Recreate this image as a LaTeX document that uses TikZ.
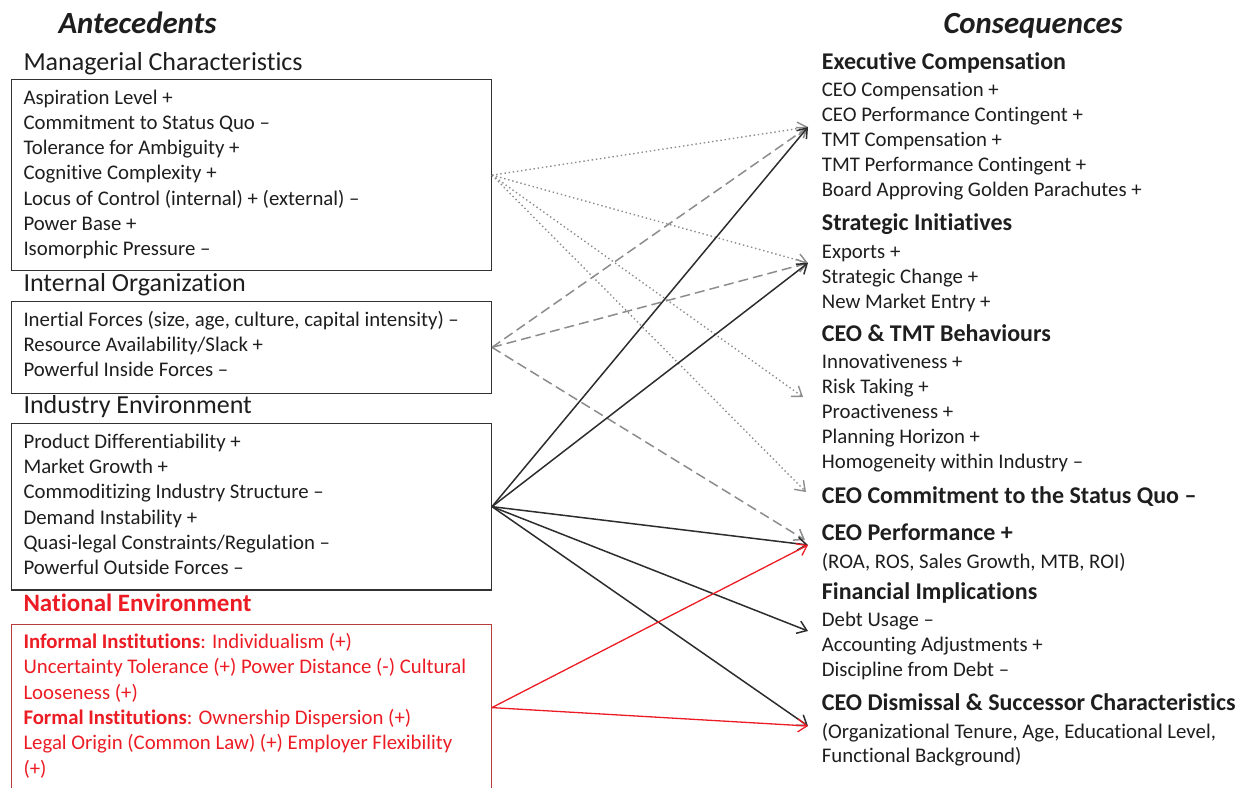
\documentclass[tikz,border=0pt]{standalone}
\usepackage{fontspec}
\setmainfont[Ligatures=NoCommon]{Carlito}
\usetikzlibrary{arrows.meta}
\definecolor{txt}{RGB}{30,30,30}
\definecolor{boxc}{RGB}{50,50,50}
\definecolor{nred}{RGB}{236,28,36}
\definecolor{nbox}{RGB}{185,60,60}
\definecolor{dotc}{RGB}{140,140,140}
\definecolor{dashc}{RGB}{140,140,140}
\definecolor{solc}{RGB}{45,45,45}
\begin{document}
\begin{tikzpicture}[x=1pt,y=-1pt,
 item/.style={anchor=base west, inner sep=0pt, font=\fontsize{20.8}{24}\selectfont, text=txt},
 redtext/.style={item, text=nred},
 lhead/.style={anchor=base west, inner sep=0pt, font=\fontsize{26}{30}\selectfont, text=txt},
 rhead/.style={anchor=base west, inner sep=0pt, font=\fontsize{24}{28}\selectfont\bfseries, text=txt},
 coltitle/.style={anchor=base west, inner sep=0pt, font=\fontsize{30.8}{36}\selectfont\bfseries\itshape, text=txt},
 abox/.style={draw=boxc, line width=1.3pt, anchor=north west, inner sep=0pt, minimum width=480pt},
 tipped/.style={-{Straight Barb[length=9pt,width=13pt]}},
 dotline/.style={tipped, draw=dotc, line width=1.4pt, dash pattern=on 1.4pt off 2.8pt},
 dashline/.style={tipped, draw=dashc, line width=1.5pt, dash pattern=on 10pt off 5pt},
 solline/.style={tipped, draw=solc, line width=1.5pt},
 redline/.style={tipped, draw=nred, line width=1.3pt}
]
\useasboundingbox (0,0) rectangle (1252,787);

% titles
\node[coltitle] (tAnte) at (58.3,33.3) {Antecedents};
\node[coltitle] (tCons) at (943.3,33.3) {Consequences};

% left boxes
\node[lhead] (hMC) at (23.3,70) {Managerial Characteristics};
\node[abox, minimum height=191pt] (mc) at (10.7,79) {};
\foreach \t [count=\i] in {Aspiration Level +, Commitment to Status Quo –, Tolerance for Ambiguity +, Cognitive Complexity +, Locus of Control (internal) + (external) –, Power Base +, Isomorphic Pressure –}
  \node[item] (mc\i) at (23.3,{104+25.25*(\i-1)}) {\t};

\node[lhead] (hIO) at (23.3,291.7) {Internal Organization};
\node[abox, minimum height=92pt] (io) at (10.7,300.7) {};
\foreach \t [count=\i] in {{Inertial Forces (size, age, culture, capital intensity) –}, Resource Availability/Slack +, Powerful Inside Forces –}
  \node[item] (io\i) at (23.3,{326.7+25*(\i-1)}) {\t};

\node[lhead] (hIE) at (23.3,413.3) {Industry Environment};
\node[abox, minimum height=166.6pt] (ie) at (10.7,422.7) {};
\foreach \t [count=\i] in {Product Differentiability +, Market Growth +, Commoditizing Industry Structure –, Demand Instability +, Quasi-legal Constraints/Regulation –, Powerful Outside Forces –}
  \node[item] (ie\i) at (23.3,{448.3+25.3*(\i-1)}) {\t};

\node[lhead, font=\fontsize{25}{30}\selectfont\bfseries, text=nred] (hNE) at (23.3,611.7) {National Environment};
\node[abox, draw=nbox, line width=1.2pt, minimum height=166pt] (ne) at (10.7,624) {};
\foreach \t [count=\i] in {\textbf{Informal Institutions}: Individualism (+), Uncertainty Tolerance (+) Power Distance (-) Cultural, Looseness (+), \textbf{Formal Institutions}: Ownership Dispersion (+), Legal Origin (Common Law) (+) Employer Flexibility, (+)}
  \node[redtext] (ne\i) at (23.3,{648.3+25.35*(\i-1)}) {\t};

% right side
\node[rhead] (hEC) at (821.7,69) {Executive Compensation};
\foreach \t [count=\i] in {CEO Compensation +, CEO Performance Contingent +, TMT Compensation +, TMT Performance Contingent +, Board Approving Golden Parachutes +}
  \node[item] (ec\i) at (821.7,{96.7+25*(\i-1)}) {\t};

\node[rhead] (hSI) at (821.7,230) {Strategic Initiatives};
\foreach \t [count=\i] in {Exports +, Strategic Change +, New Market Entry +}
  \node[item] (si\i) at (821.7,{258.3+25*(\i-1)}) {\t};

\node[rhead] (hTB) at (821.7,341.7) {CEO \& TMT Behaviours};
\foreach \t [count=\i] in {Innovativeness +, Risk Taking +, Proactiveness +, Planning Horizon +, Homogeneity within Industry –}
  \node[item] (tb\i) at (821.7,{368.3+25*(\i-1)}) {\t};

\node[rhead] (hSQ) at (821.7,503.3) {CEO Commitment to the Status Quo –};
\node[rhead] (hCP) at (821.7,540) {CEO Performance +};
\node[item] (cp1) at (821.7,568.3) {(ROA, ROS, Sales Growth, MTB, ROI)};

\node[rhead] (hFI) at (821.7,599.3) {Financial Implications};
\foreach \t [count=\i] in {Debt Usage –, Accounting Adjustments +, Discipline from Debt –}
  \node[item] (fi\i) at (821.7,{626.7+25*(\i-1)}) {\t};

\node[rhead] (hDS) at (821.7,710) {CEO Dismissal \& Successor Characteristics};
\node[item] (ds1) at (821.7,738.3) {(Organizational Tenure, Age, Educational Level,};
\node[item] (ds2) at (821.7,762.3) {Functional Background)};

% arrow targets
\coordinate (tEC) at (808,127);
\coordinate (tSI) at (808,263);
\coordinate (tRT) at (803,397);
\coordinate (tSQ) at (806,492);
\coordinate (tPFd) at (805,540);
\coordinate (tPF) at (808,545);
\coordinate (tDU) at (808,631);
\coordinate (tDS) at (808,726);

% dotted: managerial characteristics
\draw[dotline] (mc.east) -- (tEC);
\draw[dotline] (mc.east) -- (tSI);
\draw[dotline] (mc.east) -- (tRT);
\draw[dotline] (mc.east) -- (tSQ);

% dashed: internal organization
\draw[dashline] (io.east) -- (tEC);
\draw[dashline] (io.east) -- (tSI);
\draw[dashline] (io.east) -- (tPFd);

% solid: industry environment
\draw[solline] (ie.east) -- (tEC);
\draw[solline] (ie.east) -- (tSI);
\draw[solline] (ie.east) -- (tPF);
\draw[solline] (ie.east) -- (tDU);
\draw[solline] (ie.east) -- (tDS);

% red: national environment
\draw[redline] (ne.east) -- (tPF);
\draw[redline] (ne.east) -- (tDS);
\end{tikzpicture}
\end{document}
